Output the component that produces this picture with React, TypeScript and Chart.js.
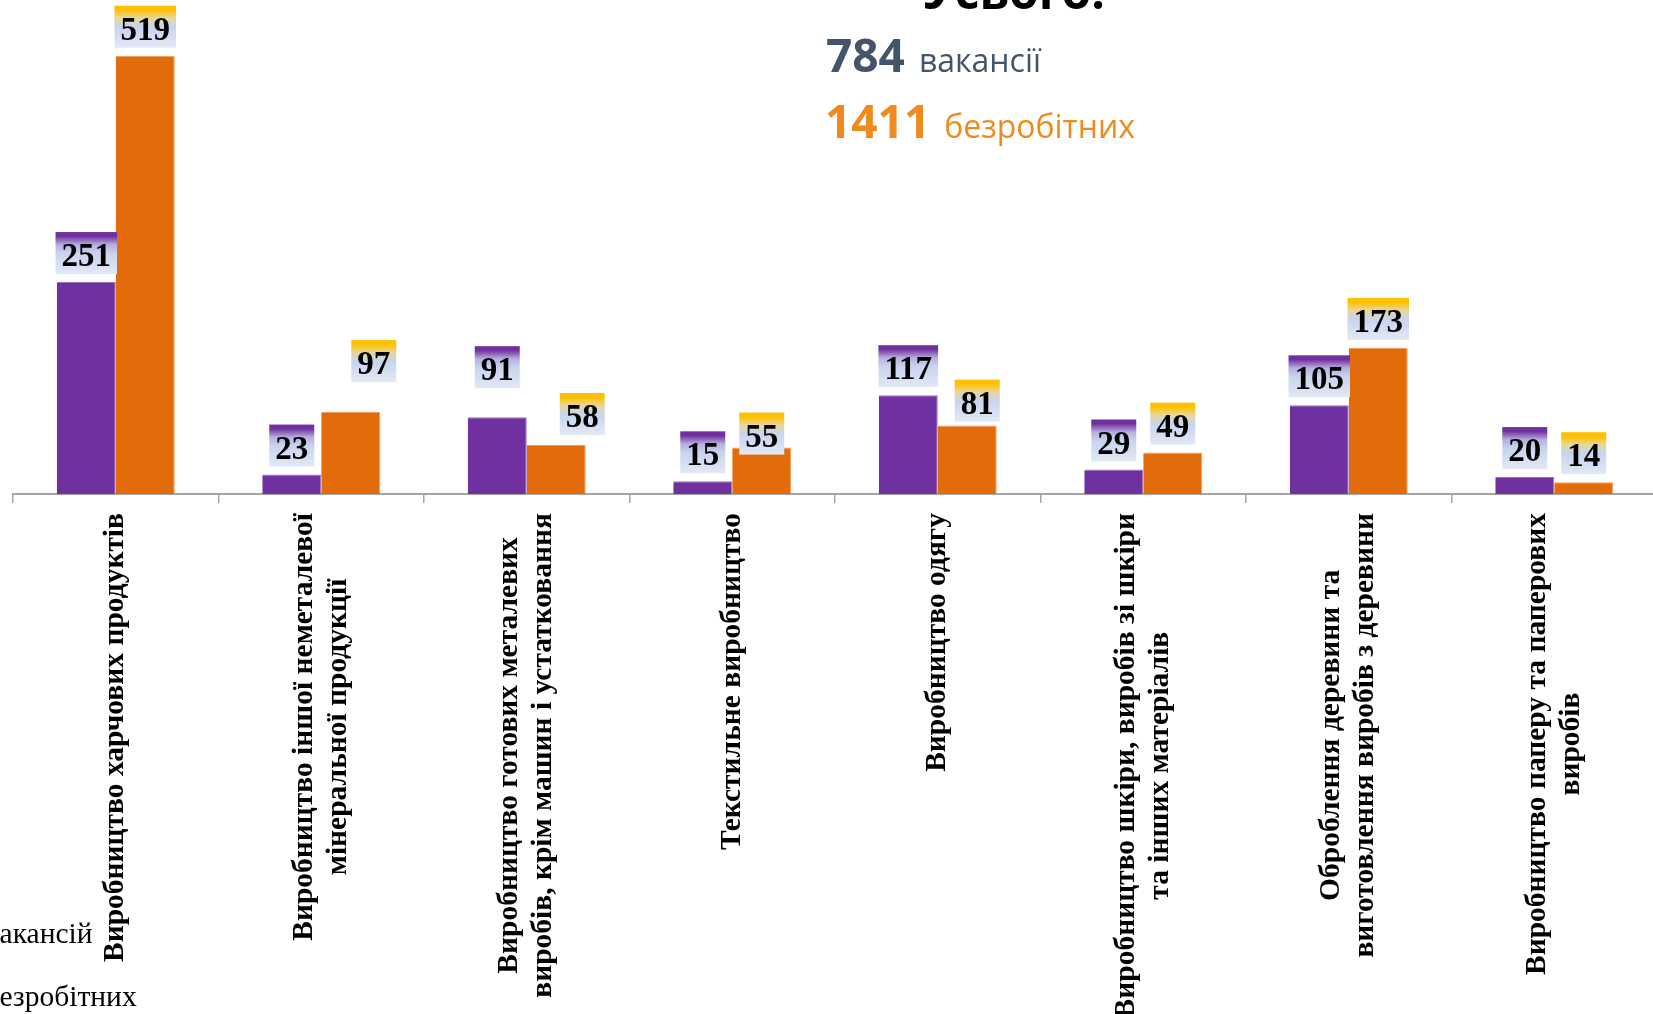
import { useEffect, useRef } from "react";
import { Chart, registerables } from "chart.js";

Chart.register(...registerables);

// ---------- data ----------
const categories: string[][] = [
  ["Виробництво харчових продуктів"],
  ["Виробництво іншої неметалевої", "мінеральної продукції"],
  ["Виробництво готових металевих", "виробів, крім машин і устатковання"],
  ["Текстильне виробництво"],
  ["Виробництво одягу"],
  ["Виробництво шкіри, виробів зі шкіри", "та інших матеріалів"],
  ["Оброблення деревини та", "виготовлення виробів з деревини"],
  ["Виробництво паперу та паперових", "виробів"],
];
const vacancies = [251, 23, 91, 15, 117, 29, 105, 20];
const unemployed = [519, 97, 58, 55, 81, 49, 173, 14];
const seriesNames = ["вакансій", "безробітних"];

const headerTitle = "Усього:";
const totalVacancies = "784";
const totalVacanciesText = "вакансії";
const totalUnemployed = "1411";
const totalUnemployedText = "безробітних";

// manual nudges of the value boxes (px), as placed in the original
const vacLabelShiftX = [0, 0, 0, 0, 0, 0, 0, 0];
const vacLabelLift = [0, 0, 21, 0, 0, 0, 0, 0];
const unempLabelShiftX = [0, 23, 26, 0, 10, 0, 0, 0];
const unempLabelLift = [0, 22, 2, -15, -4, 0, 0, 0];

// ---------- style ----------
const PURPLE = "#7030A0";
const ORANGE = "#E36C0A";
const SERIF = '"Liberation Serif", "Times New Roman", serif';
const SANS = '"Open Sans", "Noto Sans", sans-serif';

const overlayPlugin = {
  id: "overlay",
  afterDatasetsDraw(chart: any) {
    const ctx = chart.ctx as CanvasRenderingContext2D;
    const defs = [
      { ds: 0, top: PURPLE, mid: "#B7AEDD", dx: vacLabelShiftX, lift: vacLabelLift },
      { ds: 1, top: "#FFC000", mid: "#E9D79A", dx: unempLabelShiftX, lift: unempLabelLift },
    ];
    ctx.save();
    ctx.font = `bold 33px ${SERIF}`;
    defs.forEach((d) => {
      const meta = chart.getDatasetMeta(d.ds);
      const data = chart.data.datasets[d.ds].data as number[];
      meta.data.forEach((el: any, i: number) => {
        const txt = String(data[i]);
        const tw = ctx.measureText(txt).width;
        const bw = tw + 12;
        const bh = 42;
        const cx = el.x + d.dx[i];
        const bottom = el.y - 8 - d.lift[i];
        const top = bottom - bh;
        const g = ctx.createLinearGradient(0, top, 0, bottom);
        g.addColorStop(0, d.top);
        g.addColorStop(0.1, d.top);
        g.addColorStop(0.3, d.mid);
        g.addColorStop(0.5, "#C7D4EE");
        g.addColorStop(1, "#E2E9F5");
        ctx.fillStyle = g;
        ctx.fillRect(cx - bw / 2, top, bw, bh);
        ctx.fillStyle = "#000";
        ctx.textAlign = "center";
        ctx.textBaseline = "alphabetic";
        ctx.fillText(txt, cx, top + 34);
      });
    });
    ctx.restore();
  },
  afterDraw(chart: any) {
    const ctx = chart.ctx as CanvasRenderingContext2D;
    const xScale = chart.scales.x;
    ctx.save();
    // category labels, rotated, lines centred, block top-aligned under axis
    ctx.font = `bold 29.5px ${SERIF}`;
    ctx.fillStyle = "#000";
    const lh = 34;
    const blockTop = 513;
    categories.forEach((lines, i) => {
      const cx = xScale.getPixelForValue(i);
      const maxW = Math.max(...lines.map((l) => ctx.measureText(l).width));
      ctx.save();
      ctx.translate(cx, blockTop + maxW / 2);
      ctx.rotate(-Math.PI / 2);
      ctx.textAlign = "center";
      ctx.textBaseline = "middle";
      lines.forEach((l, k) => {
        ctx.fillText(l, 0, (k - (lines.length - 1) / 2) * lh);
      });
      ctx.restore();
    });

    // legend (markers cut off at the left edge)
    ctx.font = `29.5px ${SERIF}`;
    ctx.textAlign = "left";
    ctx.textBaseline = "alphabetic";
    const lg = [
      { t: seriesNames[0], y: 943 },
      { t: seriesNames[1], y: 1006 },
    ];
    lg.forEach((o) => {
      const first = ctx.measureText(o.t.charAt(0)).width;
      ctx.fillText(o.t, -first, o.y);
    });

    // header
    ctx.font = `bold 48px ${SANS}`;
    ctx.textAlign = "center";
    ctx.fillStyle = "#000";
    ctx.fillText(headerTitle, 1014, 9);

    ctx.textAlign = "left";
    ctx.font = `bold 46px ${SANS}`;
    ctx.fillStyle = "#44546A";
    ctx.fillText(totalVacancies, 826, 72);
    let w = ctx.measureText(totalVacancies).width;
    ctx.font = `32px ${SANS}`;
    ctx.fillText(totalVacanciesText, 826 + w + 14, 72);

    ctx.font = `bold 46px ${SANS}`;
    ctx.fillStyle = "#EF8A1E";
    ctx.fillText(totalUnemployed, 825, 138);
    w = ctx.measureText(totalUnemployed).width;
    ctx.font = `32px ${SANS}`;
    ctx.fillText(totalUnemployedText, 825 + w + 14, 138);
    ctx.restore();
  },
};

export default function App() {
  const ref = useRef<HTMLCanvasElement | null>(null);
  useEffect(() => {
    if (!ref.current) return;
    const chart = new Chart(ref.current, {
      type: "bar",
      data: {
        labels: categories.map((c) => c.join(" ")),
        datasets: [
          {
            label: seriesNames[0],
            data: vacancies,
            backgroundColor: PURPLE,
            borderColor: "#9B72C2",
            borderWidth: { top: 1, right: 1, left: 0, bottom: 0 },
            categoryPercentage: 0.574,
            barPercentage: 1,
          },
          {
            label: seriesNames[1],
            data: unemployed,
            backgroundColor: ORANGE,
            borderColor: "#F09A5A",
            borderWidth: { top: 1, right: 1, left: 0, bottom: 0 },
            categoryPercentage: 0.574,
            barPercentage: 1,
          },
        ],
      },
      options: {
        responsive: false,
        animation: false,
        devicePixelRatio: 1,
        layout: { padding: { left: 13, right: 23, top: 0, bottom: 511 } },
        plugins: { legend: { display: false }, tooltip: { enabled: false }, title: { display: false } },
        scales: {
          x: {
            offset: true,
            grid: {
              offset: true,
              drawOnChartArea: false,
              drawTicks: true,
              tickLength: 9,
              color: "#A6A6A6",
              lineWidth: 1.5,
            },
            border: { display: true, color: "#A6A6A6", width: 2 },
            ticks: { display: false },
          },
          y: { display: false, min: 0, max: 585 },
        },
      },
      plugins: [overlayPlugin],
    });
    return () => chart.destroy();
  }, []);

  return (
    <div
      style={{
        position: "fixed",
        left: 0,
        top: 0,
        width: 1653,
        height: 1014,
        overflow: "hidden",
        background: "#fff",
      }}
    >
      <canvas ref={ref} width={1680} height={1014} style={{ display: "block", width: 1680, height: 1014 }} />
    </div>
  );
}
